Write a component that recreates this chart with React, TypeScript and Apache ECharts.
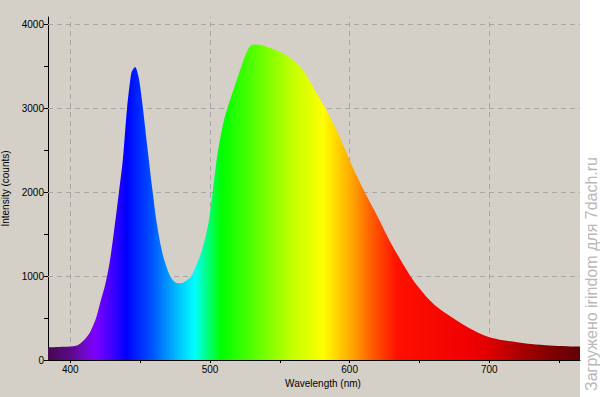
import React, { useEffect, useRef } from "react";
import * as echarts from "echarts";

// Spectrum samples (wavelength in nm, intensity in counts)
const wavelengthNm = [
  384, 392, 400, 404, 407, 410, 413.6, 416, 418.6, 422,
  425, 428, 431, 434.8, 437.6, 440.6, 443.6, 445, 446.4, 448.5,
  450, 452, 455, 459, 462, 466, 469.8, 473, 477, 481,
  486.4, 490, 493.6, 497, 499.3, 502, 505.5, 510, 513, 516,
  519, 522, 526, 529.3, 534, 538, 543, 548, 554, 560,
  565, 570, 575, 579.3, 583, 587, 591, 597, 603, 610,
  620, 630, 643.6, 650, 656, 662, 668, 674, 684, 692,
  699.5, 710, 720, 730, 743.6, 755, 765,
];
const intensityCounts = [
  150, 155, 160, 170, 195, 240, 316, 400, 510, 720,
  900, 1150, 1500, 2000, 2390, 3000, 3415, 3470, 3494, 3400,
  3260, 3000, 2560, 2000, 1620, 1270, 1068, 960, 915, 925,
  995, 1120, 1277, 1480, 1672, 2010, 2470, 2860, 3030, 3180,
  3330, 3480, 3660, 3750, 3762, 3750, 3720, 3690, 3640, 3570,
  3490, 3370, 3220, 3097, 2990, 2860, 2730, 2500, 2270, 2030,
  1710, 1380, 1000, 855, 735, 640, 565, 500, 395, 325,
  275, 235, 212, 190, 173, 165, 160,
];

const xTickValues = [400, 450, 500, 550, 600, 650, 700, 750];
const xLabelValues = [400, 500, 600, 700];
const yTickValues = [0, 500, 1000, 1500, 2000, 2500, 3000, 3500, 4000];
const yLabelValues = [0, 1000, 2000, 3000, 4000];

// Colour of the light at each wavelength (style)
const spectrumColors: [number, string][] = [
  [384, "#460850"],
  [400, "#5a0a88"],
  [410, "#7008c8"],
  [418, "#7c00ff"],
  [430, "#4000ff"],
  [440, "#0000ff"],
  [458, "#0050ff"],
  [477, "#00c0ff"],
  [489, "#00ffff"],
  [498, "#00ff80"],
  [508, "#00ff00"],
  [530, "#50ff00"],
  [558, "#c0ff00"],
  [581, "#ffff00"],
  [603, "#ffa000"],
  [615, "#ff6000"],
  [634, "#ff1000"],
  [686, "#f00000"],
  [700, "#e00000"],
  [720, "#b00000"],
  [745, "#800000"],
  [765, "#640008"],
];

const FONT = "Liberation Sans";

export default function App() {
  const ref = useRef<HTMLDivElement>(null);

  useEffect(() => {
    document.body.style.margin = "0";
    const chart = echarts.init(ref.current!, null, { renderer: "svg" });
    const xMin = 384;
    const xMax = 765;
    const stops = spectrumColors.map(([nm, c]) => ({
      offset: (nm - xMin) / (xMax - xMin),
      color: c,
    }));

    chart.setOption({
      animation: false,
      backgroundColor: "#d4d0c8",
      graphic: [
        {
          type: "rect",
          shape: { x: 580, y: 0, width: 20, height: 397 },
          style: { fill: "#ffffff" },
          silent: true,
        },
        {
          type: "text",
          x: 591,
          y: 274,
          rotation: Math.PI / 2,
          style: {
            text: "Загружено irindom для 7dach.ru",
            fontSize: 16,
            fontFamily: FONT,
            fill: "#b9b9b9",
            align: "center",
            verticalAlign: "middle",
          },
          silent: true,
        },
      ],
      grid: {
        left: 48,
        right: 20,
        top: 17,
        bottom: 37,
        containLabel: false,
        outerBoundsMode: "none",
      },
      xAxis: {
        type: "value",
        min: xMin,
        max: xMax,
        name: "Wavelength (nm)",
        nameLocation: "middle",
        nameGap: 17,
        nameTextStyle: {
          fontSize: 10,
          color: "#000",
          fontFamily: FONT,
          padding: [0, 0, 0, 18],
        },
        axisLine: { lineStyle: { color: "#000", width: 1 } },
        axisTick: {
          customValues: xTickValues,
          length: 3,
          lineStyle: { color: "#000" },
        },
        axisLabel: {
          customValues: xLabelValues,
          formatter: (v: number) => String(v),
          fontSize: 10,
          color: "#000",
          fontFamily: FONT,
          margin: 4,
        },
        splitLine: { show: false },
      },
      yAxis: {
        type: "value",
        min: 0,
        max: 4090,
        name: "Intensity (counts)",
        nameLocation: "middle",
        nameGap: 25,
        nameTextStyle: { fontSize: 10, color: "#000", fontFamily: FONT },
        axisLine: { show: true, lineStyle: { color: "#000", width: 1 } },
        axisTick: {
          show: true,
          customValues: yTickValues,
          length: 4,
          lineStyle: { color: "#000" },
        },
        axisLabel: {
          customValues: yLabelValues,
          formatter: (v: number) => String(v),
          fontSize: 10,
          color: "#000",
          fontFamily: FONT,
          margin: 4,
        },
        splitLine: { show: false },
      },
      series: [
        {
          type: "line",
          data: wavelengthNm.map((w, i) => [w, intensityCounts[i]]),
          showSymbol: false,
          symbol: "none",
          smooth: 0.3,
          z: 2,
          lineStyle: { width: 0, opacity: 0 },
          areaStyle: {
            color: new echarts.graphic.LinearGradient(0, 0, 1, 0, stops),
            opacity: 1,
          },
          markLine: {
            z: 1,
            silent: true,
            symbol: ["none", "none"],
            label: { show: false },
            lineStyle: { color: "#a6a6a6", type: [5, 4], width: 1 },
            data: [
              ...xLabelValues.map((v) => ({ xAxis: v })),
              ...yLabelValues.filter((v) => v > 0).map((v) => ({ yAxis: v })),
            ],
          },
        },
      ],
    });

    return () => chart.dispose();
  }, []);

  return (
    <div
      ref={ref}
      style={{ position: "absolute", left: 0, top: 0, width: 600, height: 397 }}
    />
  );
}
